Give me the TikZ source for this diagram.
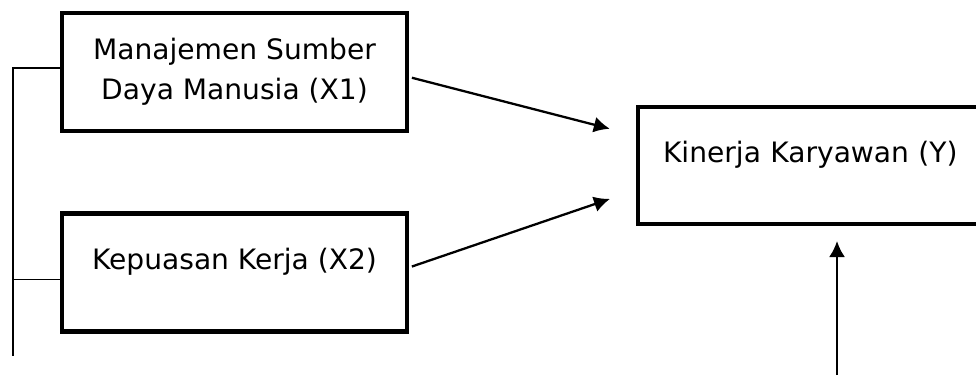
\documentclass[tikz,border=0pt]{standalone}
\usepackage{fontspec}
\setmainfont{DejaVu Sans}
\usepackage{tikz}
\usetikzlibrary{arrows.meta}

\tikzset{
  varbox/.style={draw, line width=2.3pt, minimum width=6.9cm, minimum height=2.36cm,
    align=center, font=\fontsize{16}{22.8}\selectfont},
  upper/.style={text height=0.44cm, text depth=0.56cm},
  link/.style={line width=1.3pt, -{Latex[length=0.32cm,width=0.32cm]}},
  bracket/.style={line width=1.1pt}
}

\begin{document}
\begin{tikzpicture}

 \clip (0,0) rectangle (19.52,-7.82); % page size of the reference

 % independent variables
 \node[varbox] (x1) at (4.69,-1.44) {Manajemen Sumber\\Daya Manusia (X1)};
 \node[varbox,upper] (x2) at (4.69,-5.45) {Kepuasan Kerja (X2)};

 % dependent variable, cut off at the right
 \node[varbox,upper,minimum width=7.44cm,minimum height=2.34cm,
   text width=6.44cm,align=left,inner xsep=0.5cm] (y) at (16.48,-3.31) {Kinerja Karyawan (Y)};

 % arrows into Y
 \draw[link,shorten <=0.06cm,shorten >=0.54cm] ([yshift=-0.1cm]x1.east) -- ([yshift=0.6cm]y.west);
 \draw[link,shorten <=0.06cm,shorten >=0.55cm] ([yshift=0.1cm]x2.east) -- ([yshift=-0.49cm]y.west);

 \coordinate (bot) at (16.74,-7.5);
 \draw[link,shorten >=0.3cm] (bot) -- (bot |- y.south);

 % bracket on the left
 \coordinate (brk) at (0.26,-7.12);
 \draw[bracket] ([yshift=0.08cm]x1.west) -| (brk);
 \draw[bracket] ([yshift=-0.14cm]x2.west) -- ([yshift=-0.14cm]x2.west -| brk);

\end{tikzpicture}
\end{document}
